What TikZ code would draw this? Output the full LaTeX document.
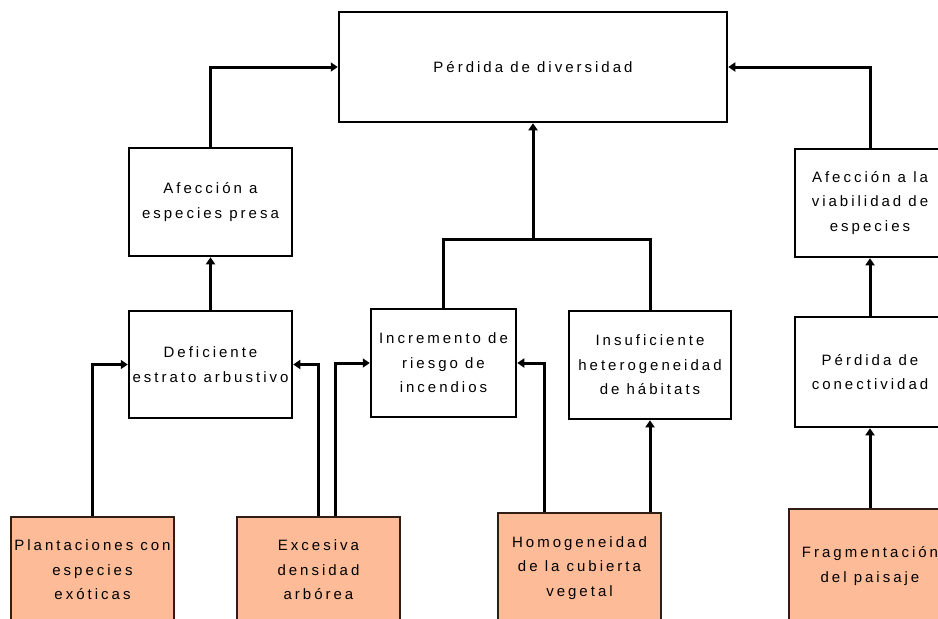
\documentclass[tikz,border=0pt]{standalone}
\usepackage{fontspec}
\setmainfont{Liberation Sans}[LetterSpace=20]
\usetikzlibrary{arrows.meta}
\definecolor{salmon}{RGB}{253,187,151}
\definecolor{borde}{RGB}{48,30,20}
\tikzset{
  caja/.style={draw, line width=2.5pt, fill=white, align=center, minimum width=163pt, minimum height=108pt, font=\fontsize{15}{24.5}\selectfont},
  causa/.style={caja, fill=salmon, draw=borde},
  flecha/.style={line width=3pt, -{Triangle[length=7pt,width=9pt]}},
  linea/.style={line width=3pt}
}
\begin{document}
\begin{tikzpicture}[x=1pt,y=-1pt]
    \useasboundingbox (0,0) rectangle (938,619);
    \clip (0,0) rectangle (938,619);
      \node[caja, minimum width=388pt, minimum height=110pt] (perdida) at (533,67) {P\'erdida de diversidad};
      \node[caja] (afpresa) at (210.5,202) {Afecci\'on a\\especies presa};
      \node[caja, minimum height=107pt] (deficiente) at (210.5,364.5) {Deficiente\\estrato arbustivo};
      \node[caja, minimum width=145pt] (incremento) at (443.5,363) {Incremento de\\riesgo de\\incendios};
      \node[caja, minimum width=162pt] (insuficiente) at (650,365) {Insuficiente\\heterogeneidad\\de h\'abitats};
      \node[caja, minimum width=150pt] (afviab) at (870,203) {Afecci\'on a la\\viabilidad de\\especies};
      \node[caja, minimum width=150pt, minimum height=110pt] (conect) at (870,372) {P\'erdida de\\conectividad};

      \node[causa, minimum height=106pt] (plant) at (92.5,570) {Plantaciones con\\especies\\ex\'oticas};
      \node[causa, minimum height=106pt] (excesiva) at (318.5,570) {Excesiva\\densidad\\arb\'orea};
      \node[causa, minimum height=110pt] (homog) at (579.5,568) {Homogeneidad\\de la cubierta\\vegetal};
      \node[causa, minimum width=162pt, minimum height=114pt] (frag) at (870,566) {Fragmentaci\'on\\del paisaje};

      \coordinate (union) at (533,239);

      \draw[flecha] (afpresa.north) |- (perdida.west);
      \draw[flecha] (deficiente.north) -- (afpresa.south);
      \draw[flecha] (plant.north) |- (deficiente.west);
      \draw[flecha] (excesiva.north) |- (deficiente.east);
      \draw[flecha] ([xshift=17pt]excesiva.north) |- (incremento.west);
      \draw[flecha] ([xshift=-35pt]homog.north) |- (incremento.east);
      \draw[flecha] (homog.north -| insuficiente.south) -- (insuficiente.south);
      \draw[linea] (incremento.north) |- (union) -| (insuficiente.north);
      \draw[flecha] (union) -- (perdida.south);
      \draw[flecha] (afviab.north) |- (perdida.east);
      \draw[flecha] (conect.north) -- (afviab.south);
      \draw[flecha] (frag.north) -- (conect.south);
\end{tikzpicture}
\end{document}
